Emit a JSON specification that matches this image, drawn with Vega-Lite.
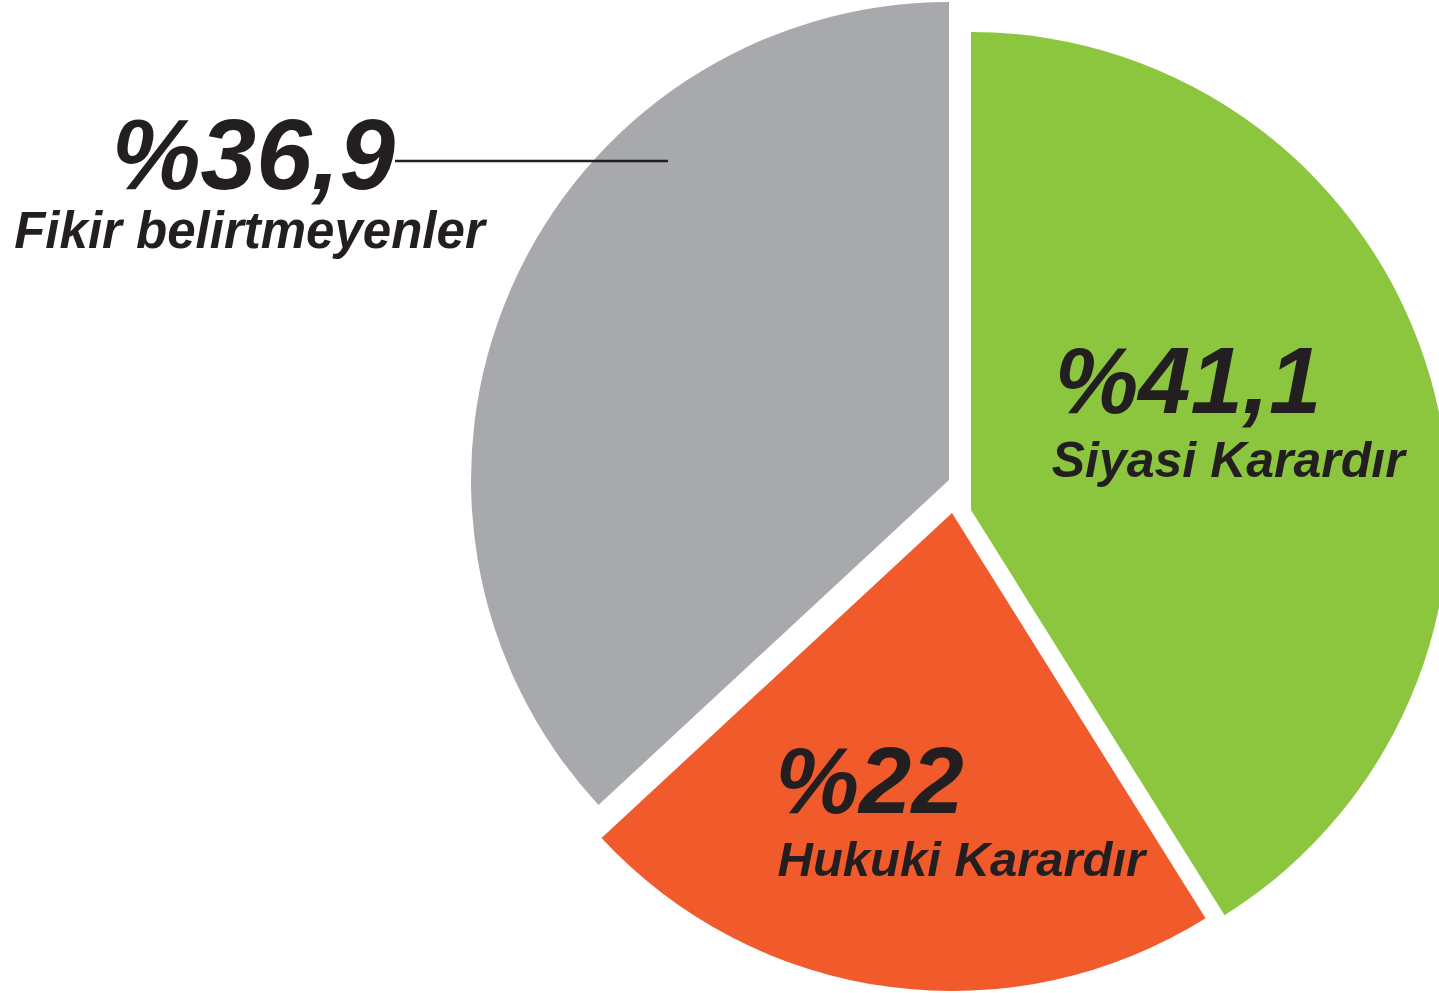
{
  "$schema": "https://vega.github.io/schema/vega-lite/v6.json",
  "width": 1439,
  "height": 993,
  "autosize": {"type": "none"},
  "padding": 0,
  "background": "white",
  "config": {"view": {"stroke": null}},
  "data": {
    "values": [
      {"answer": "Siyasi Karardır", "pct": 41.1, "label": "%41,1"},
      {"answer": "Hukuki Karardır", "pct": 22, "label": "%22"},
      {"answer": "Fikir belirtmeyenler", "pct": 36.9, "label": "%36,9"}
    ]
  },
  "layer": [
    {
      "mark": {"type": "arc", "x": 971, "y": 510, "outerRadius": 478},
      "encoding": {
        "theta": {"field": "pct", "type": "quantitative", "stack": true, "scale": {"domain": [0, 100]}},
        "order": {"field": "answer", "sort": "descending"},
        "color": {"field": "answer", "type": "nominal", "legend": null,
          "scale": {"domain": ["Siyasi Karardır", "Hukuki Karardır", "Fikir belirtmeyenler"], "range": ["#8cc63f", "#f15a2b", "#a7a9ac"]}},
        "opacity": {"condition": {"test": "datum.answer === 'Siyasi Karardır'", "value": 1}, "value": 0}
      }
    },
    {
      "mark": {"type": "arc", "x": 952, "y": 513, "outerRadius": 478},
      "encoding": {
        "theta": {"field": "pct", "type": "quantitative", "stack": true, "scale": {"domain": [0, 100]}},
        "order": {"field": "answer", "sort": "descending"},
        "color": {"field": "answer", "type": "nominal", "legend": null,
          "scale": {"domain": ["Siyasi Karardır", "Hukuki Karardır", "Fikir belirtmeyenler"], "range": ["#8cc63f", "#f15a2b", "#a7a9ac"]}},
        "opacity": {"condition": {"test": "datum.answer === 'Hukuki Karardır'", "value": 1}, "value": 0}
      }
    },
    {
      "mark": {"type": "arc", "x": 949, "y": 480, "outerRadius": 478},
      "encoding": {
        "theta": {"field": "pct", "type": "quantitative", "stack": true, "scale": {"domain": [0, 100]}},
        "order": {"field": "answer", "sort": "descending"},
        "color": {"field": "answer", "type": "nominal", "legend": null,
          "scale": {"domain": ["Siyasi Karardır", "Hukuki Karardır", "Fikir belirtmeyenler"], "range": ["#8cc63f", "#f15a2b", "#a7a9ac"]}},
        "opacity": {"condition": {"test": "datum.answer === 'Fikir belirtmeyenler'", "value": 1}, "value": 0}
      }
    },
    {
      "mark": {"type": "text", "x": 971, "y": 510, "radius": 240, "align": "left", "baseline": "alphabetic", "dx": -147, "dy": -31,
        "font": "Liberation Sans", "fontSize": 94, "fontWeight": "bold", "fontStyle": "italic", "color": "#231f20"},
      "encoding": {
        "theta": {"field": "pct", "type": "quantitative", "stack": true, "scale": {"domain": [0, 100]}},
        "order": {"field": "answer", "sort": "descending"},
        "text": {"condition": {"test": "datum.answer === 'Siyasi Karardır'", "field": "label"}, "value": ""}
      }
    },
    {
      "mark": {"type": "text", "x": 971, "y": 510, "radius": 240, "align": "left", "baseline": "alphabetic", "dx": -150, "dy": 33,
        "font": "Liberation Sans", "fontSize": 50, "fontWeight": "bold", "fontStyle": "italic", "color": "#231f20"},
      "encoding": {
        "theta": {"field": "pct", "type": "quantitative", "stack": true, "scale": {"domain": [0, 100]}},
        "order": {"field": "answer", "sort": "descending"},
        "text": {"condition": {"test": "datum.answer === 'Siyasi Karardır'", "field": "answer"}, "value": ""}
      }
    },
    {
      "mark": {"type": "text", "x": 952, "y": 513, "radius": 300, "align": "left", "baseline": "alphabetic", "dx": -137, "dy": 3,
        "font": "Liberation Sans", "fontSize": 94, "fontWeight": "bold", "fontStyle": "italic", "color": "#231f20"},
      "encoding": {
        "theta": {"field": "pct", "type": "quantitative", "stack": true, "scale": {"domain": [0, 100]}},
        "order": {"field": "answer", "sort": "descending"},
        "text": {"condition": {"test": "datum.answer === 'Hukuki Karardır'", "field": "label"}, "value": ""}
      }
    },
    {
      "mark": {"type": "text", "x": 952, "y": 513, "radius": 300, "align": "left", "baseline": "alphabetic", "dx": -135, "dy": 66,
        "font": "Liberation Sans", "fontSize": 49, "fontWeight": "bold", "fontStyle": "italic", "color": "#231f20"},
      "encoding": {
        "theta": {"field": "pct", "type": "quantitative", "stack": true, "scale": {"domain": [0, 100]}},
        "order": {"field": "answer", "sort": "descending"},
        "text": {"condition": {"test": "datum.answer === 'Hukuki Karardır'", "field": "answer"}, "value": ""}
      }
    },
    {
      "mark": {"type": "text", "x": 949, "y": 480, "radius": 760, "align": "center", "baseline": "alphabetic", "dx": 1, "dy": 13,
        "font": "Liberation Sans", "fontSize": 100, "fontWeight": "bold", "fontStyle": "italic", "color": "#231f20"},
      "encoding": {
        "theta": {"field": "pct", "type": "quantitative", "stack": true, "scale": {"domain": [0, 100]}},
        "order": {"field": "answer", "sort": "descending"},
        "text": {"condition": {"test": "datum.answer === 'Fikir belirtmeyenler'", "field": "label"}, "value": ""}
      }
    },
    {
      "mark": {"type": "text", "x": 949, "y": 480, "radius": 760, "align": "center", "baseline": "alphabetic", "dx": -3, "dy": 72,
        "font": "Liberation Sans", "fontSize": 51, "fontWeight": "bold", "fontStyle": "italic", "color": "#231f20"},
      "encoding": {
        "theta": {"field": "pct", "type": "quantitative", "stack": true, "scale": {"domain": [0, 100]}},
        "order": {"field": "answer", "sort": "descending"},
        "text": {"condition": {"test": "datum.answer === 'Fikir belirtmeyenler'", "field": "answer"}, "value": ""}
      }
    },
    {
      "data": {"values": [{"answer": "Fikir belirtmeyenler"}]},
      "mark": {"type": "rule", "color": "#231f20", "strokeWidth": 2.5},
      "encoding": {
        "x": {"value": 395},
        "x2": {"value": 668},
        "y": {"value": 161}
      }
    }
  ]
}
